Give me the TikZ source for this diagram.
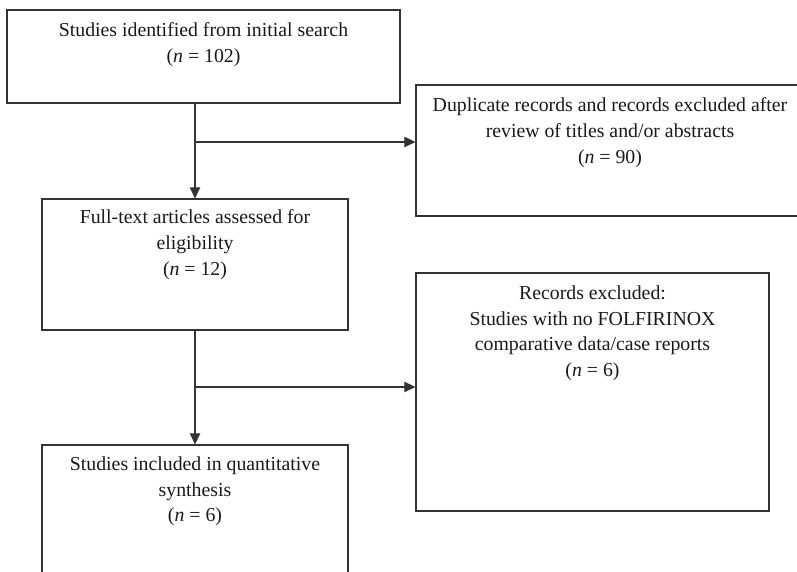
\documentclass[tikz,border=0pt]{standalone}
\usepackage{fontspec}
\setmainfont{Liberation Serif}
\usetikzlibrary{arrows.meta,calc}
\begin{document}
\begin{tikzpicture}[x=1pt,y=1pt,
  box/.style={draw=black!80,line width=1.3pt,rectangle,inner sep=0pt},
  txt/.style={align=center,inner sep=0pt,anchor=north,font=\fontsize{19.8}{25.8}\selectfont,text=black!90},
  conn/.style={draw=black!80,line width=1.2pt},
  arr/.style={conn,-{Triangle[length=11pt,width=10.5pt]}}]
\useasboundingbox (0,0) rectangle (797,572);
\clip (0,0) rectangle (797,572);
% boxes (x px, y = 572 - px)
\node[box,minimum width=393pt,minimum height=93pt] (b1) at (203.5,515.5) {};
\node[box,minimum width=394pt,minimum height=131pt] (b2) at (613,421.5) {};
\node[box,minimum width=306pt,minimum height=131pt] (b3) at (195,307.5) {};
\node[box,minimum width=353pt,minimum height=238pt] (b4) at (592.5,180) {};
\node[box,minimum width=306pt,minimum height=160pt] (b5) at (195,47) {};
% texts
\node[txt] (t1) at ([yshift=-13pt]b1.north) {Studies identified from initial search\\(\textit{n} = 102)};
\node[txt] (t2) at ([yshift=-13pt]b2.north -| 610,0) {Duplicate records and records excluded after\\review of titles and/or abstracts\\(\textit{n} = 90)};
\node[txt] (t3) at ([yshift=-11pt]b3.north) {Full-text articles assessed for\\eligibility\\(\textit{n} = 12)};
\node[txt] (t4) at ([yshift=-13pt]b4.north) {Records excluded:\\Studies with no FOLFIRINOX\\comparative data/case reports\\(\textit{n} = 6)};
\node[txt] (t5) at ([yshift=-12pt]b5.north) {Studies included in quantitative\\synthesis\\(\textit{n} = 6)};
% connectors
\coordinate (j1) at (b3.north |- 0,430);
\coordinate (j2) at (b5.north |- 0,185);
\draw[arr] (b3.north |- b1.south) -- (b3.north);
\draw[arr] (j1) -- (b2.west |- j1);
\draw[arr] (b3.south) -- (b5.north);
\draw[arr] (j2) -- (b4.west |- j2);
\end{tikzpicture}
\end{document}
